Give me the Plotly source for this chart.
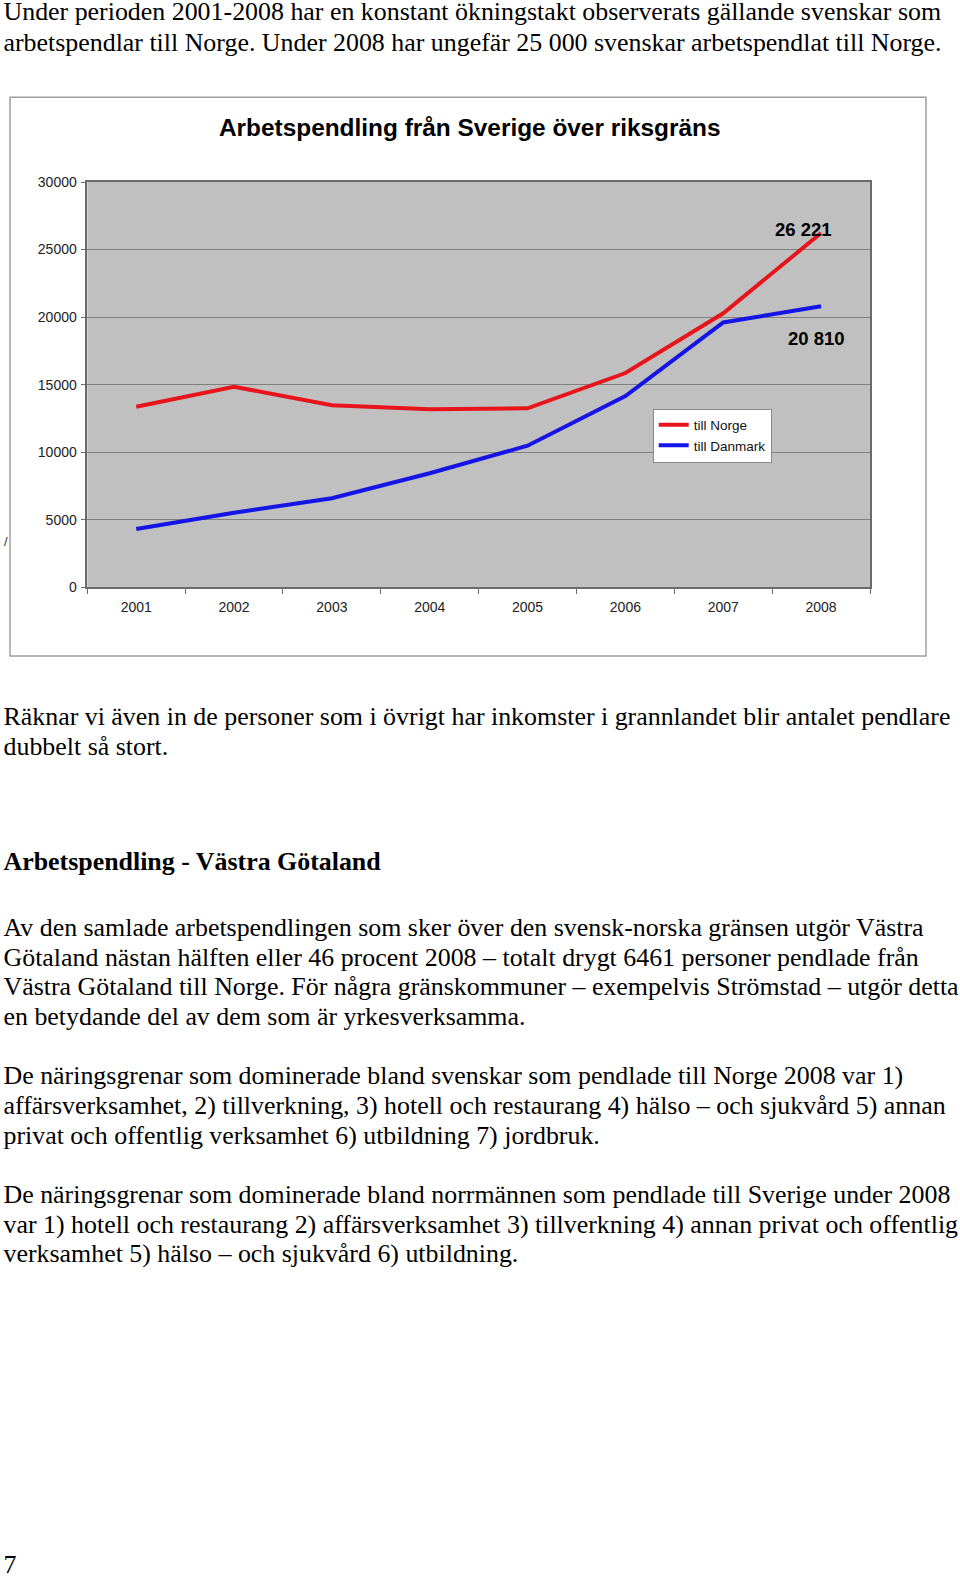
"""
Page with commuting chart (Arbetspendling), rebuilt with plotly.
"""
import plotly.graph_objects as go

W, H = 960, 1577

years = ["2001", "2002", "2003", "2004", "2005", "2006", "2007", "2008"]
till_norge = [13370, 14850, 13470, 13180, 13250, 15860, 20280, 26221]
till_danmark = [4320, 5520, 6590, 8440, 10480, 14160, 19600, 20810]

chart_title = "Arbetspendling från Sverige över riksgräns"
series_names = ["till Norge", "till Danmark"]
series_colors = ["#e8141c", "#1414e6"]

# page text lines and where each line sits (px from top)
page_text = [
  "Under perioden 2001-2008 har en konstant ökningstakt observerats gällande svenskar som",
  "arbetspendlar till Norge. Under 2008 har ungefär 25 000 svenskar arbetspendlat till Norge.",
  "Räknar vi även in de personer som i övrigt har inkomster i grannlandet blir antalet pendlare",
  "dubbelt så stort.",
  "<b>Arbetspendling - Västra Götaland</b>",
  "Av den samlade arbetspendlingen som sker över den svensk-norska gränsen utgör Västra",
  "Götaland nästan hälften eller 46 procent 2008 – totalt drygt 6461 personer pendlade från",
  "Västra Götaland till Norge. För några gränskommuner – exempelvis Strömstad – utgör detta",
  "en betydande del av dem som är yrkesverksamma.",
  "De näringsgrenar som dominerade bland svenskar som pendlade till Norge 2008 var 1)",
  "affärsverksamhet, 2) tillverkning, 3) hotell och restaurang 4) hälso – och sjukvård 5) annan",
  "privat och offentlig verksamhet 6) utbildning 7) jordbruk.",
  "De näringsgrenar som dominerade bland norrmännen som pendlade till Sverige under 2008",
  "var 1) hotell och restaurang 2) affärsverksamhet 3) tillverkning 4) annan privat och offentlig",
  "verksamhet 5) hälso – och sjukvård 6) utbildning.",
  "7",
]
page_text_y = [14, 44.5, 719, 748.5, 864, 929.5, 959.5, 988.5, 1018.5,
               1078, 1108, 1137.5, 1197, 1226.5, 1256, 1567]

SERIF = "Liberation Serif, Times New Roman, serif"
SANS = "Liberation Sans, Arial, sans-serif"

px = lambda x: x / W
py = lambda y: 1 - y / H

fig = go.Figure()
for name, vals, col in zip(series_names, [till_norge, till_danmark], series_colors):
  fig.add_trace(
    go.Scatter(
      x = years, y = vals,
      mode = "lines",
      name = name,
      line = dict(color = col, width = 4),
    )
  )

# body text of the page, on a full-page pixel axis pair
fig.add_trace(
  go.Scatter(
    x = [3.5] * len(page_text), y = page_text_y,
    text = page_text,
    mode = "text", textposition = "middle right",
    textfont = dict(family = SERIF, size = 25.9, color = "#000"),
    xaxis = "x2", yaxis = "y2",
    showlegend = False, hoverinfo = "skip", cliponaxis = False,
  )
)

fmt = lambda v: "{:,}".format(v).replace(",", " ")
annotations = [
  # chart title
  dict(
    xref = "paper", yref = "paper", x = px(470), y = py(127.5),
    xanchor = "center", yanchor = "middle",
    text = "<b>{}</b>".format(chart_title), showarrow = False,
    font = dict(family = SANS, size = 24.4, color = "#000"),
  ),
  # stray glyph peeking out from behind the chart frame
  dict(
    xref = "paper", yref = "paper", x = px(2), y = py(541),
    xanchor = "left", yanchor = "middle", text = "/", showarrow = False,
    font = dict(family = SANS, size = 13, color = "#333"),
  ),
  # value labels at the last year
  dict(
    xref = "x", yref = "y", x = len(years) - 1, y = till_norge[-1],
    xshift = -18, yshift = 4, text = "<b>{}</b>".format(fmt(till_norge[-1])),
    showarrow = False, font = dict(family = SANS, size = 18.5, color = "#000"),
  ),
  dict(
    xref = "x", yref = "y", x = len(years) - 1, y = till_danmark[-1],
    xshift = -5, yshift = -32, text = "<b>{}</b>".format(fmt(till_danmark[-1])),
    showarrow = False, font = dict(family = SANS, size = 18.5, color = "#000"),
  ),
]

fig.update_layout(
  width = W, height = H,
  margin = dict(l = 0, r = 0, t = 0, b = 0, autoexpand = False),
  paper_bgcolor = "white",
  plot_bgcolor = "rgba(0,0,0,0)",
  font = dict(family = SANS, size = 14, color = "#222"),
  showlegend = True,
  legend = dict(
    x = px(652.7), y = py(408.5), xanchor = "left", yanchor = "top",
    bgcolor = "white", bordercolor = "#8a8a8a", borderwidth = 1,
    font = dict(family = SANS, size = 13.5, color = "#111"),
    itemwidth = 30, tracegroupgap = 0,
  ),
  annotations = annotations,
  shapes = [
    # chart frame
    dict(
      type = "rect", xref = "paper", yref = "paper",
      x0 = px(10), x1 = px(926), y0 = py(656), y1 = py(97.3),
      line = dict(color = "#a0a0a0", width = 1.5),
      fillcolor = "rgba(0,0,0,0)", layer = "below",
    ),
    # grey plot area
    dict(
      type = "rect", xref = "x domain", yref = "y domain",
      x0 = 0, x1 = 1, y0 = 0, y1 = 1,
      line = dict(width = 0), fillcolor = "#c0c0c0", layer = "below",
    ),
  ],
  xaxis = dict(
    domain = [px(87.3), px(870)],
    type = "category", range = [-0.5, 7.5],
    showgrid = False, zeroline = False,
    showline = True, linecolor = "#6a6a6a", linewidth = 1.5, mirror = True,
    ticks = "outside", tickson = "boundaries", ticklen = 5, tickcolor = "#6a6a6a",
    ticklabelstandoff = 6, automargin = False,
    tickfont = dict(family = SANS, size = 14, color = "#222"),
  ),
  yaxis = dict(
    domain = [py(587.3), py(182)],
    range = [0, 30000], dtick = 5000, tickformat = "d",
    showgrid = True, gridcolor = "#808080", gridwidth = 1, zeroline = False,
    showline = True, linecolor = "#6a6a6a", linewidth = 1.5, mirror = True,
    ticks = "outside", ticklen = 5, tickcolor = "#6a6a6a",
    ticklabelstandoff = 1, automargin = False,
    tickfont = dict(family = SANS, size = 14, color = "#222"),
  ),
  xaxis2 = dict(domain = [0, 1], range = [0, W], visible = False, anchor = "y2",
                fixedrange = True, automargin = False),
  yaxis2 = dict(domain = [0, 1], range = [H, 0], visible = False, anchor = "x2",
                fixedrange = True, automargin = False),
)

fig.write_html("out.html", config = dict(displayModeBar = False),
               post_script = "document.body.style.margin='0';")
